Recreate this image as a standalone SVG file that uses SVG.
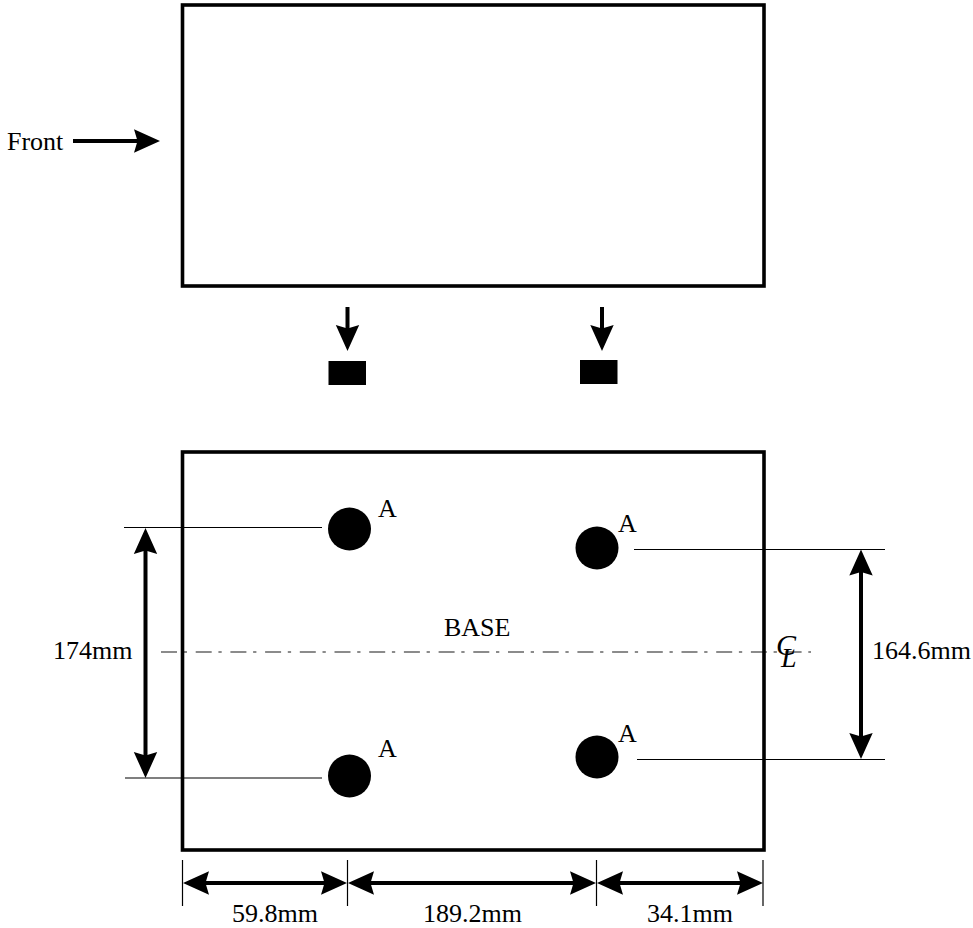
<svg xmlns="http://www.w3.org/2000/svg" width="973" height="928" viewBox="0 0 973 928">
<style>
text{font-family:"Liberation Serif","Times New Roman",serif;font-size:26px;fill:#000}
.box{fill:none;stroke:#000;stroke-width:3.6}
.thin{stroke:#000;stroke-width:1.2;fill:none}
.shaft{stroke:#000;stroke-width:4;fill:none}
.ah{fill:#000;stroke:none}
.center{stroke:#666;stroke-width:1.5;stroke-dasharray:16 6.7 3.3 8.7;fill:none}
</style>
<defs>
<path id="head" class="ah" d="M0 0L-26 -11.7L-22.5 0L-26 11.7Z"/>
</defs>
<rect width="973" height="928" fill="#fff"/>
<g id="connectors">
<line class="shaft" x1="73" y1="141" x2="140" y2="141"/><use href="#head" transform="translate(160 141)"/>
<line class="shaft" x1="347.5" y1="307" x2="347.5" y2="330"/><use href="#head" transform="translate(347.5 351) rotate(90)"/>
<line class="shaft" x1="602" y1="307" x2="602" y2="330"/><use href="#head" transform="translate(602 351) rotate(90)"/>
<line class="thin" x1="124" y1="527.5" x2="322" y2="527.5"/>
<line class="thin" x1="125" y1="778" x2="322" y2="778"/>
<line class="thin" x1="634" y1="549.5" x2="885" y2="549.5"/>
<line class="thin" x1="637" y1="759.5" x2="885" y2="759.5"/>
<line class="shaft" x1="145.5" y1="545" x2="145.5" y2="761"/><use href="#head" transform="translate(145.5 528) rotate(-90)"/><use href="#head" transform="translate(145.5 778) rotate(90)"/>
<line class="shaft" x1="861" y1="567" x2="861" y2="742"/><use href="#head" transform="translate(861 549.5) rotate(-90)"/><use href="#head" transform="translate(861 759) rotate(90)"/>
<line class="thin" x1="182.5" y1="860" x2="182.5" y2="906"/>
<line class="thin" x1="347.5" y1="860" x2="347.5" y2="906"/>
<line class="thin" x1="596.5" y1="860" x2="596.5" y2="906"/>
<line class="thin" x1="763" y1="860" x2="763" y2="906"/>
<line class="shaft" x1="200" y1="883" x2="330" y2="883"/><use href="#head" transform="translate(183 883) rotate(180)"/><use href="#head" transform="translate(347 883)"/>
<line class="shaft" x1="365" y1="883" x2="579" y2="883"/><use href="#head" transform="translate(348 883) rotate(180)"/><use href="#head" transform="translate(596 883)"/>
<line class="shaft" x1="614" y1="883" x2="746" y2="883"/><use href="#head" transform="translate(597 883) rotate(180)"/><use href="#head" transform="translate(763 883)"/>
<line class="center" x1="161" y1="652" x2="811" y2="652"/>
</g>
<g id="top-box"><rect class="box" x="182.5" y="5" width="581.5" height="281"/></g>
<g id="base-box"><rect class="box" x="182.5" y="452" width="581.5" height="398"/></g>
<g id="block-left"><rect x="328.5" y="361" width="37.5" height="24"/></g>
<g id="block-right"><rect x="580" y="360" width="37.5" height="24"/></g>
<g id="hole-tl"><circle cx="349.5" cy="529" r="21.5"/><text x="378" y="517">A</text></g>
<g id="hole-bl"><circle cx="349.5" cy="776" r="21.5"/><text x="378" y="757">A</text></g>
<g id="hole-tr"><circle cx="597" cy="548" r="21.5"/><text x="618" y="532">A</text></g>
<g id="hole-br"><circle cx="597" cy="757" r="21.5"/><text x="618" y="742">A</text></g>
<g id="labels">
<text x="7" y="150">Front</text>
<text x="444" y="636">BASE</text>
<text x="53" y="659">174mm</text>
<text x="872" y="659">164.6mm</text>
<text x="232" y="922">59.8mm</text>
<text x="423" y="922">189.2mm</text>
<text x="647" y="922">34.1mm</text>
<text x="776" y="655" font-style="italic" font-size="30" style="font-size:30px">C</text>
<text x="781" y="667" font-style="italic" style="font-size:28px">L</text>
</g>
</svg>
